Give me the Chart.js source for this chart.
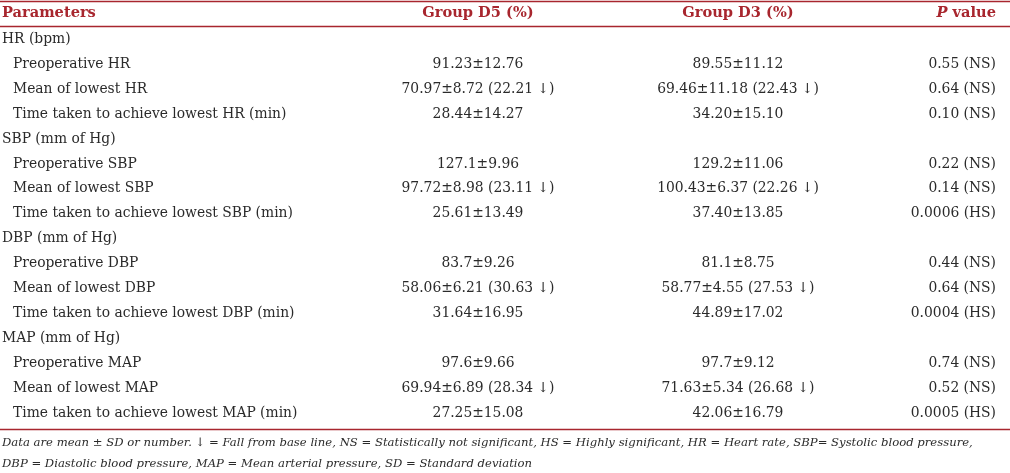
<!DOCTYPE html>
<html>
<head>
<meta charset="utf-8">
<script src="https://cdn.jsdelivr.net/npm/chart.js@4"></script>
<style>
  html, body { margin: 0; padding: 0; background: #ffffff; }
  #wrap { width: 1010px; height: 473px; }
</style>
</head>
<body>
<div id="wrap"><canvas id="tabla"></canvas></div>
<script>
const headers = ['Parameters', 'Group D5 (%)', 'Group D3 (%)', 'P value'];
const parameters = [
    'HR (bpm)', 'Preoperative HR', 'Mean of lowest HR', 'Time taken to achieve lowest HR (min)',
    'SBP (mm of Hg)', 'Preoperative SBP', 'Mean of lowest SBP', 'Time taken to achieve lowest SBP (min)',
    'DBP (mm of Hg)', 'Preoperative DBP', 'Mean of lowest DBP', 'Time taken to achieve lowest DBP (min)',
    'MAP (mm of Hg)', 'Preoperative MAP', 'Mean of lowest MAP', 'Time taken to achieve lowest MAP (min)'
];
const groupD5 = [
    '', '91.23±12.76', '70.97±8.72 (22.21 ↓)', '28.44±14.27',
    '', '127.1±9.96', '97.72±8.98 (23.11 ↓)', '25.61±13.49',
    '', '83.7±9.26', '58.06±6.21 (30.63 ↓)', '31.64±16.95',
    '', '97.6±9.66', '69.94±6.89 (28.34 ↓)', '27.25±15.08'
];
const groupD3 = [
    '', '89.55±11.12', '69.46±11.18 (22.43 ↓)', '34.20±15.10',
    '', '129.2±11.06', '100.43±6.37 (22.26 ↓)', '37.40±13.85',
    '', '81.1±8.75', '58.77±4.55 (27.53 ↓)', '44.89±17.02',
    '', '97.7±9.12', '71.63±5.34 (26.68 ↓)', '42.06±16.79'
];
const pValues = [
    '', '0.55 (NS)', '0.64 (NS)', '0.10 (NS)',
    '', '0.22 (NS)', '0.14 (NS)', '0.0006 (HS)',
    '', '0.44 (NS)', '0.64 (NS)', '0.0004 (HS)',
    '', '0.74 (NS)', '0.52 (NS)', '0.0005 (HS)'
];
const footnotes = [
    'Data are mean ± SD or number. ↓ = Fall from base line, NS = Statistically not significant, HS = Highly significant, HR = Heart rate, SBP= Systolic blood pressure,',
    'DBP = Diastolic blood pressure, MAP = Mean arterial pressure, SD = Standard deviation'
];

// --- layout (posiciones en unidades de las escalas) ---
const colX = [2, 478, 738, 996];
const colAlign = ['left', 'center', 'center', 'right'];
const headerRow = -1.07;
const ruleRows = [-1.56, -0.54, 15.65];
const footRows = [16.2, 17.03];

const FONT = '"DejaVu Serif", "Liberation Serif", serif';
const textColor = '#2a2a2a';
const redColor = '#a8262e';
const headSize = '14.6px ';
const bodySize = '13.85px ';
const footSize = '11.65px ';

const columns = [parameters, groupD5, groupD3, pValues];

const tablePlugin = {
    id: 'tablePlugin',
    afterDatasetsDraw(chart) {
        const ctx = chart.ctx;
        const xs = chart.scales.x;
        const ys = chart.scales.y;
        ctx.save();

        // lineas rojas
        ctx.strokeStyle = redColor;
        ctx.lineWidth = 1.3;
        ruleRows.forEach(r => {
            const y = Math.round(ys.getPixelForValue(r)) + 0.5;
            ctx.beginPath();
            ctx.moveTo(xs.getPixelForValue(0), y);
            ctx.lineTo(xs.getPixelForValue(1010), y);
            ctx.stroke();
        });

        // encabezado
        ctx.textBaseline = 'middle';
        ctx.fillStyle = redColor;
        const hy = ys.getPixelForValue(headerRow);
        headers.forEach((h, c) => {
            ctx.textAlign = colAlign[c];
            const x = xs.getPixelForValue(colX[c]);
            if (h === 'P value') {
                ctx.font = 'italic bold ' + headSize + FONT;
                const pw = ctx.measureText('P').width;
                ctx.font = 'bold ' + headSize + FONT;
                const rest = ' value';
                const rw = ctx.measureText(rest).width;
                ctx.textAlign = 'left';
                ctx.fillText(rest, x - rw, hy);
                ctx.font = 'italic bold ' + headSize + FONT;
                ctx.fillText('P', x - rw - pw, hy);
            } else {
                ctx.font = 'bold ' + headSize + FONT;
                ctx.fillText(h, x, hy);
            }
        });

        // celdas
        ctx.fillStyle = textColor;
        ctx.font = bodySize + FONT;
        chart.data.datasets.forEach((ds, c) => {
            const meta = chart.getDatasetMeta(c);
            ctx.textAlign = colAlign[c];
            meta.data.forEach((pt, i) => {
                const txt = columns[c][i];
                if (!txt) return;
                const isGroup = c === 0 && groupD5[i] === '';
                const x = pt.x + (c === 0 && !isGroup ? 11 : 0);
                ctx.fillText(txt, x, pt.y);
            });
        });

        // notas al pie
        ctx.font = 'italic ' + footSize + FONT;
        ctx.textAlign = 'left';
        footnotes.forEach((f, k) => {
            ctx.fillText(f, xs.getPixelForValue(2), ys.getPixelForValue(footRows[k]));
        });
        ctx.restore();
    }
};

new Chart(document.getElementById('tabla').getContext('2d'), {
    type: 'scatter',
    data: {
        datasets: columns.map((col, c) => ({
            label: headers[c],
            data: col.map((_, i) => ({ x: colX[c], y: i })),
            pointRadius: 0,
            pointHoverRadius: 0
        }))
    },
    options: {
        responsive: true,
        maintainAspectRatio: false,
        animation: false,
        events: [],
        layout: { padding: 0 },
        plugins: { legend: { display: false }, tooltip: { enabled: false } },
        scales: {
            x: { type: 'linear', min: 0, max: 1010, display: false },
            y: { type: 'linear', min: -1.586, max: 17.41, reverse: true, display: false }
        }
    },
    plugins: [tablePlugin]
});
</script>
</body>
</html>
